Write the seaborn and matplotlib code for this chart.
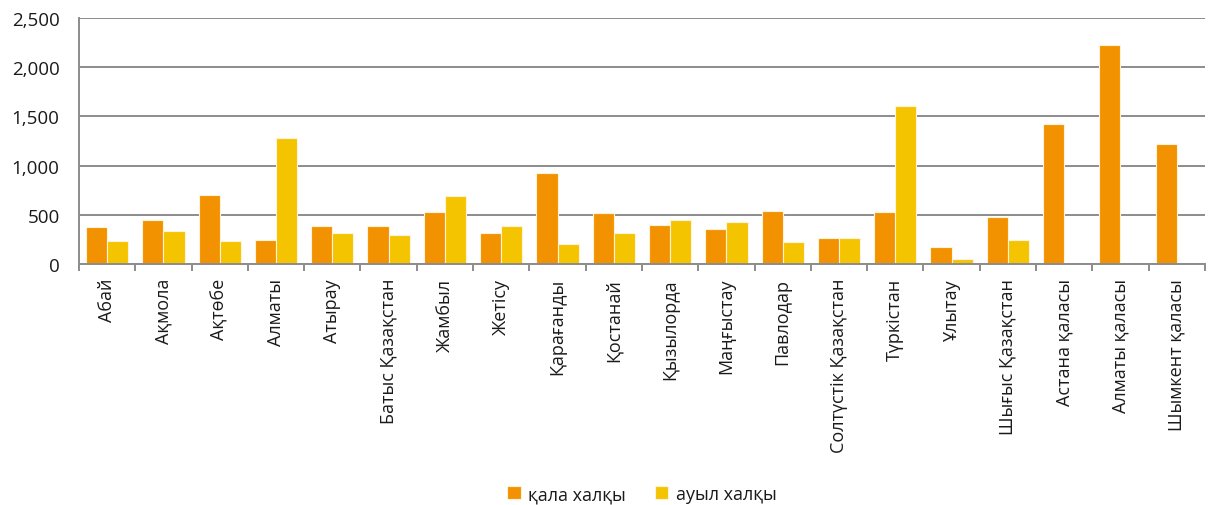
import matplotlib
matplotlib.use("Agg")
import matplotlib.pyplot as plt
import seaborn as sns
import pandas as pd
import numpy as np
from matplotlib.ticker import FuncFormatter, FixedLocator

regions = ["Абай", "Ақмола", "Ақтөбе", "Алматы", "Атырау", "Батыс Қазақстан",
           "Жамбыл", "Жетісу", "Қарағанды", "Қостанай", "Қызылорда", "Маңғыстау",
           "Павлодар", "Солтүстік Қазақстан", "Түркістан", "Ұлытау",
           "Шығыс Қазақстан", "Астана қаласы", "Алматы қаласы", "Шымкент қаласы"]
urban = [372, 443, 700, 246, 388, 388, 524, 311, 923, 514, 396, 358, 534, 260,
         524, 176, 477, 1427, 2228, 1220]
rural = [233, 338, 233, 1278, 311, 297, 687, 382, 206, 311, 443, 429, 220, 264,
         1609, 48, 243, 0, 0, 0]
series_names = ["қала халқы", "ауыл халқы"]
colors = ["#F39200", "#F5C400"]
yticks = [0, 500, 1000, 1500, 2000, 2500]

df = pd.DataFrame({
    "region": regions * 2,
    "value": urban + rural,
    "series": [series_names[0]] * len(regions) + [series_names[1]] * len(regions),
})

sns.set_theme(style="white")
plt.rcParams["font.family"] = ["Open Sans", "DejaVu Sans"]

fig = plt.figure(figsize=(12.11, 5.06), dpi=100)
ax = fig.add_axes([0.0652, 0.4763, 0.9298, 0.4862])

sns.barplot(data=df, x="region", y="value", hue="series", order=regions,
            hue_order=series_names, palette=colors, width=0.75, saturation=1,
            edgecolor="#FFF3DC", linewidth=0.8, ax=ax, legend=True, errorbar=None)

ax.set_ylim(0, 2500)
ax.set_xlim(-0.5, len(regions) - 0.5)
ax.yaxis.set_major_locator(FixedLocator(yticks))
ax.yaxis.set_major_formatter(FuncFormatter(lambda v, p: f"{int(v):,}"))
ax.grid(axis="y", color="#8C8C8C", linewidth=1.4)
ax.set_axisbelow(True)
ax.set_xlabel("")
ax.set_ylabel("")

for s in ["top", "right"]:
    ax.spines[s].set_visible(False)
for s in ["left", "bottom"]:
    ax.spines[s].set_color("#8C8C8C")
    ax.spines[s].set_linewidth(1.4)

ax.tick_params(axis="y", length=0, pad=14, labelsize=13.5, colors="#1a1a1a")
ax.tick_params(axis="x", which="major", length=0, pad=10, labelsize=13,
               labelrotation=90, colors="#1a1a1a")
ax.xaxis.set_minor_locator(FixedLocator(np.arange(-0.5, len(regions), 1.0)))
ax.tick_params(axis="x", which="minor", length=5, width=1.4, color="#8C8C8C",
               direction="out", bottom=True)

leg = ax.legend(loc="center", bbox_to_anchor=(0.5, -0.935), ncol=2, frameon=False,
                fontsize=13, handlelength=0.75, handleheight=0.75, columnspacing=1.6,
                handletextpad=0.4)
for t in leg.get_texts():
    t.set_color("#1a1a1a")

fig.savefig("out.png", dpi=100)
